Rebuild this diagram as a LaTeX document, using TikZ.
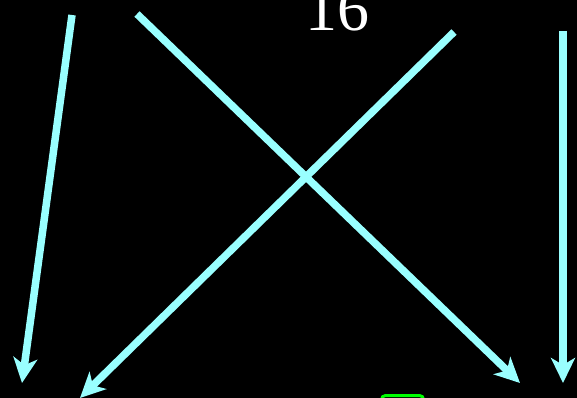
\documentclass[tikz,border=0pt]{standalone}
\usepackage{fontspec}
\setmainfont{Liberation Serif}
\usetikzlibrary{arrows.meta}
\definecolor{arrowcyan}{RGB}{153,255,255}
\definecolor{brightgreen}{RGB}{0,255,0}
\tikzset{
  cyanarrow/.style={draw=arrowcyan, line width=7.5pt, -{Stealth[length=25pt,width=24pt,inset=7pt]}},
  numlabel/.style={text=white, font=\fontsize{64}{64}\selectfont, anchor=base, inner sep=0pt},
  greenbox/.style={draw=brightgreen, line width=3pt, rounded corners=4pt}
}
\begin{document}
\begin{tikzpicture}[x=1pt,y=-1pt]
\fill[black] (0,0) rectangle (577,398);
\useasboundingbox (0,0) rectangle (577,398);
\coordinate (a1s) at (72,15);   \coordinate (a1e) at (22,383);
\coordinate (a2s) at (137,14);  \coordinate (a2e) at (520,383);
\coordinate (a3s) at (454,32);  \coordinate (a3e) at (80,398);
\coordinate (a4s) at (563,31);  \coordinate (a4e) at (563,383);
\draw[cyanarrow] (a1s) -- (a1e);
\draw[cyanarrow] (a2s) -- (a2e);
\draw[cyanarrow] (a3s) -- (a3e);
\draw[cyanarrow] (a4s) -- (a4e);
\node[numlabel] (num) at (337.5,31) {16};
\draw[greenbox] (381.5,395.5) rectangle (423.5,420);
\end{tikzpicture}
\end{document}
